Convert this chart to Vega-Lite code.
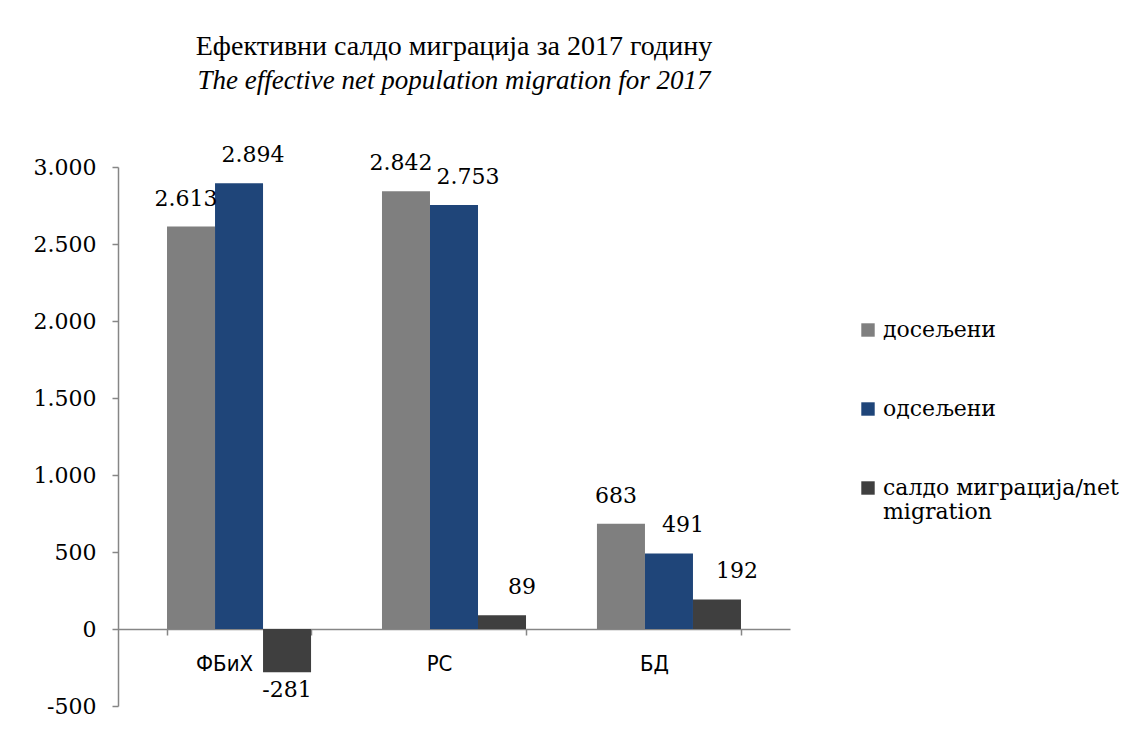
{
  "$schema": "https://vega.github.io/schema/vega-lite/v6.json",
  "width": 672,
  "height": 539,
  "autosize": {"type": "none"},
  "padding": {"left": 118, "top": 167, "right": 355, "bottom": 30},
  "background": "white",
  "title": {
    "text": "Ефективни салдо миграција за 2017 годину",
    "subtitle": "The effective net population migration for 2017",
    "font": "Liberation Serif",
    "fontSize": 28,
    "fontWeight": "normal",
    "color": "black",
    "subtitleFont": "Liberation Serif",
    "subtitleFontSize": 27,
    "subtitleFontStyle": "italic",
    "subtitleColor": "black",
    "subtitlePadding": 7,
    "offset": 50,
    "anchor": "middle"
  },
  "config": {
    "locale": {"number": {"decimal": ",", "thousands": ".", "grouping": [3], "currency": ["", ""], "minus": "-"}},
    "view": {"stroke": null}
  },
  "data": {
    "values": [
      {"region": "ФБиХ", "series": "досељени", "value": 2613},
      {"region": "ФБиХ", "series": "одсељени", "value": 2894},
      {"region": "ФБиХ", "series": "салдо миграција/net migration", "value": -281},
      {"region": "РС", "series": "досељени", "value": 2842},
      {"region": "РС", "series": "одсељени", "value": 2753},
      {"region": "РС", "series": "салдо миграција/net migration", "value": 89},
      {"region": "БД", "series": "досељени", "value": 683},
      {"region": "БД", "series": "одсељени", "value": 491},
      {"region": "БД", "series": "салдо миграција/net migration", "value": 192}
    ]
  },
  "encoding": {
    "x": {
      "field": "region",
      "type": "nominal",
      "sort": ["ФБиХ", "РС", "БД"],
      "scale": {"paddingInner": 0.33, "paddingOuter": 0.228},
      "axis": {
        "title": null,
        "orient": "bottom",
        "offset": -77,
        "domainColor": "#868686",
        "domainWidth": 1.5,
        "tickColor": "#868686",
        "tickWidth": 1.5,
        "tickSize": 6,
        "tickBand": "extent",
        "labelAngle": 0,
        "labelPadding": 18,
        "labelOffset": -15,
        "labelFont": "Liberation Sans Narrow, DejaVu Sans Condensed, sans-serif",
        "labelFontSize": 22,
        "labelColor": "black"
      }
    },
    "xOffset": {
      "field": "series",
      "type": "nominal",
      "sort": ["досељени", "одсељени", "салдо миграција/net migration"],
      "scale": {"paddingInner": 0, "paddingOuter": 0}
    },
    "y": {
      "field": "value",
      "type": "quantitative",
      "scale": {"domain": [-500, 3000], "nice": false},
      "axis": {
        "title": null,
        "values": [-500, 0, 500, 1000, 1500, 2000, 2500, 3000],
        "format": ",d",
        "grid": false,
        "domainColor": "#868686",
        "domainWidth": 1.5,
        "tickColor": "#868686",
        "tickWidth": 1.5,
        "tickSize": 6,
        "labelPadding": 16,
        "labelFont": "DejaVu Serif",
        "labelFontSize": 22,
        "labelColor": "black"
      }
    }
  },
  "layer": [
    {
      "mark": {"type": "bar"},
      "encoding": {
        "color": {
          "field": "series",
          "type": "nominal",
          "sort": ["досељени", "одсељени", "салдо миграција/net migration"],
          "scale": {
            "domain": ["досељени", "одсељени", "салдо миграција/net migration"],
            "range": ["#7F7F7F", "#1F4579", "#3F3F3F"]
          },
          "legend": {
            "title": null,
            "orient": "none",
            "legendX": 739,
            "legendY": 152,
            "symbolType": "square",
            "symbolSize": 180,
            "symbolStrokeWidth": 0,
            "labelFont": "DejaVu Serif",
            "labelFontSize": 22,
            "labelColor": "black",
            "labelLimit": 400,
            "rowPadding": 57,
            "labelExpr": "datum.value == 'салдо миграција/net migration' ? ['салдо миграција/net', 'migration'] : datum.label"
          }
        }
      }
    },
    {
      "transform": [{"filter": "datum.value >= 0 && datum.series == 'досељени'"}],
      "mark": {"type": "text", "baseline": "bottom", "dy": -16, "dx": -5, "font": "DejaVu Serif", "fontSize": 22, "color": "black"},
      "encoding": {"text": {"field": "value", "type": "quantitative", "format": ",d"}}
    },
    {
      "transform": [{"filter": "datum.value >= 0 && datum.series == 'одсељени'"}],
      "mark": {"type": "text", "baseline": "bottom", "dy": -16, "dx": 14, "font": "DejaVu Serif", "fontSize": 22, "color": "black"},
      "encoding": {"text": {"field": "value", "type": "quantitative", "format": ",d"}}
    },
    {
      "transform": [{"filter": "datum.value >= 0 && datum.series == 'салдо миграција/net migration'"}],
      "mark": {"type": "text", "baseline": "bottom", "dy": -16, "dx": 20, "font": "DejaVu Serif", "fontSize": 22, "color": "black"},
      "encoding": {"text": {"field": "value", "type": "quantitative", "format": ",d"}}
    },
    {
      "transform": [{"filter": "datum.value < 0"}],
      "mark": {"type": "text", "baseline": "top", "dy": 8, "font": "DejaVu Serif", "fontSize": 22, "color": "black"},
      "encoding": {"text": {"field": "value", "type": "quantitative", "format": ",d"}}
    }
  ]
}
